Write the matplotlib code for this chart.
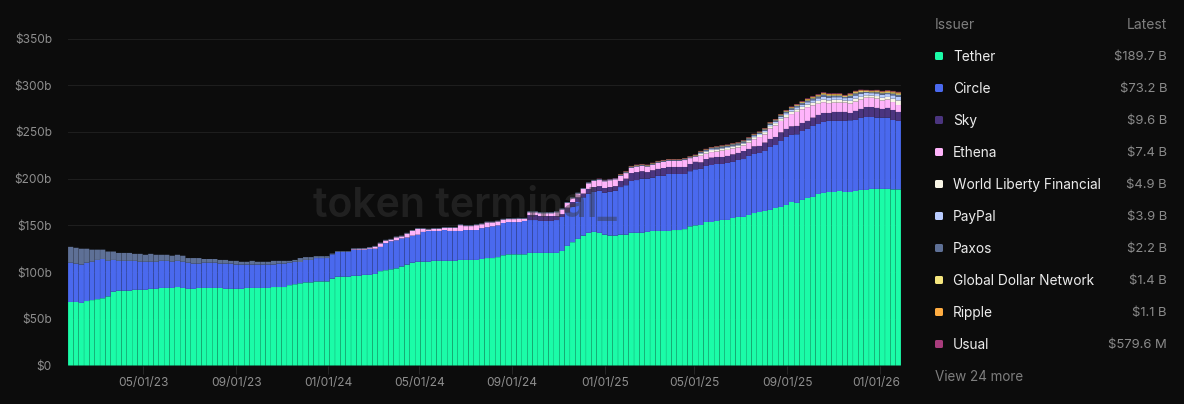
import numpy as np
import matplotlib
matplotlib.use("Agg")
import matplotlib.pyplot as plt
from matplotlib.patches import FancyBboxPatch
from matplotlib.transforms import ScaledTranslation

plt.rcParams['font.family'] = ['Inter', 'DejaVu Sans']

BG = '#0c0c0c'

tether = [
 68,68,67,69,70,71,72,74,79,80,80,80,81,81,81,82,82,83,83,83,84,83,82,82,83,83,83,83,83,82,82,82,82,83,83,83,83,83,84,84,
 84,86,87,88,89,89,90,90,90,93,95,95,95,96,96,97,97,98,101,102,103,104,106,108,110,111,111,111,112,112,112,112,112,113,113,113,113,114,115,115,
 116,118,119,119,119,119,120.5,120.5,120.5,120.5,120.5,120.5,122.6,128,132,135.5,139,142,143,142,140,139,139,140,140,142,142,142,143,144,144,144,144,145,145,146,149,150,
 150.4,153.6,153.6,154.7,155.8,155.8,157.9,159,159,161.1,163.2,164.3,165.4,166.5,168.6,169.7,171.8,175,174,177.2,179.3,180.4,183.6,184.7,185.7,185.7,186.8,185.7,185.7,186.8,187.9,187.9,189,189,189,189,188.5,188.5]

circle_top = [
 110,109,108,110,111,113,114,112,113,112,112,112,112,111,111,111,111,112,112,111,112,111,110,109,109,110,110,110,109,109,109,108,108,108,108,108,108,108,108,109,
 109,110,111,111,113,113,115,115,115,119,121.5,121.5,121.5,124,124,124,125,125,127,131,133,134,136,137,139,140,143,144,144,144,145,144,144,144,145,145,145,147,148,149,
 150,152.5,153.5,153.5,153.5,154.7,155.7,155.7,154.7,154.7,154.7,155.7,159,164,170,175,180,184,186,187,185,186,187,191,193,197.5,198.5,200,200,201,203,203,205,205,205,205,208,210,
 210.4,213.6,214.6,215.7,215.7,216.8,217.9,220,221,224.3,226.4,227.5,229.6,233.9,236,240.3,244.6,246.8,247.5,251,253.2,256.4,258.5,260.7,261.8,261.8,261.8,261.8,262.5,262.8,265,266,266,265.3,265.3,265.3,262.8,261.8]

sky = [0]*86 + [
 5.3,5.3,5.3,5.3,5.3,4.3,3,5,5,5,4,5,5,5,5,5,5,6.5,7,8.5,8.5,8,7,8,7.4,8.4,7.5,7.5,7.5,7.5,7.7,8,
 7.1,7.4,7.9,7.5,7.5,7.5,8.1,7.5,8.6,7.5,8.2,7.5,9,8.6,8.6,9.3,8.6,9.2,8.9,8.6,8.6,8.9,9.7,9.6,8.5,9.6,9.6,9.6,7.8,9.7,9.6,10.7,10.7,10.4,9.3,10.4,10.7,9.6]

ethena = [0]*53 + [
 .6,.8,1,1,2.2,3.7,2.7,1.7,3.2,2.2,4.2,5.2,6.2,3.2,1.5,2.2,2.2,2.2,3.2,3.2,6.2,4.2,4.2,5.2,4.2,5.2,4.2,
 4.2,3.7,3.2,3.2,3.4,2.2,2.9,2.9,2.9,2.9,2.9,3.9,4.9,4.9,3.9,3.9,4.9,5.9,6.5,6.5,7.1,7.2,7.2,5.4,5.9,5.5,5.9,5.6,5.9,5.9,6.5,6.5,6.4,6.4,6.4,7.4,6.2,5.5,
 7.1,5.8,5.9,5.8,6.8,6.5,6.2,5.8,5.8,6.8,7.6,9.5,8.7,11.2,12.3,12.2,12.3,13.1,15.1,14.6,14.7,13.2,12,11.5,10.5,10,10,10,10,10,10,10,10,10,9,9,8.5,7.4]

world_liberty = [0]*118 + [
 2.2,2.2,2.2,2.2,2.2,2.2,2.2,2.2,2.2,2.2,2.2,2.2,2.5,2.5,2.5,2.6,2.6,2.7,2.7,2.7,2.8,2.8,3,3,3,3,3,2.2,3,3.2,3,2.5,2.3,2.7,3,2.8,3.6,4.9]

paypal = [0]*43 + [.5,0,0,0,0,.5] + [0]*35 + [
 .3,.3,.3,.3,.3,.3,.3,.3,.3,.3,.3,.3,.3,.3,.3,.3,.3,.3,.3,.3,.3,.3,.3,.3,.3,.3,.3,.3,.3,.3,.3,.3,.3,.3] + [
 .9,.9,1,1,1,1,1,1,1,1,1.1,1.2,1.5,1.5,1.6,1.8,2,2,2.2,2.4,2.5,2.6,2.8,3,3,2.8,2.8,2.6,3.3,3.4,3.2,2.6,2.5,2.9,3.2,3,3.6,3.9]

paxos = [
 17,17,17,15,13,11,10,10,9,8.5,8.5,8.5,7.5,8.5,7.5,8.5,7.5,6.5,6.5,6.5,6.5,6.5,5,6,6,4,4,4,4,4,3,4,3,3,4,3,3,3,4,3,
 3,2,2,3.5,3,3,2,2,1.5,.8,.8,.8,.8,.8,.8,.8,.8,.8,.8,.8,.8,.8,.8,.8,.8,.8,.8,.8,.8,.8,.8,.8,.8,.8,.8,.8,.8,.8,.8,.8,
 .8,.8,.8,.8,.8,.8,.8,.8,.8,.8,.8,.8,.8,.8,.8,.8,.8,.8,.8,.8,.8,.8,.8,.8,.8,.8,.8,.8,.8,.8,.8,.8,.8,.8,.8,.8,.8,.9,
 1,1,1.1,1.4,1.4,1.4,1.4,1.4,1.4,1.4,1.4,1.5,1.5,1.5,1.5,1.5,1.6,1.6,1.6,1.6,1.8,2,2,2.2,2,1.7,1.7,1.2,2.2,2.2,1.7,1,.9,1.2,1.6,1.4,1.9,2.2]

global_dollar = [0]*103 + [
 .3,.3,.3,.3,.3,.3,.3,.3,.3,.3,.3,.3,.3,.3,.3,
 .2,.2,.3,.3,.3,.3,.3,.3,.3,.3,.3,.3,.4,.4,.4,.5,.6,.6,.7,.8,.9,1,1,1,1,1,1,.9,1.2,1.2,1.2,.9,.9,1,1,1.1,1.2,1.4]

ripple = [0]*103 + [
 .3,.3,.3,.3,.3,.3,.3,.3,.3,.3,.3,.3,.3,.3,.3,
 .4,.4,.4,.4,.4,.4,.4,.4,.4,.4,.4,.4,.5,.5,.5,.5,.6,.6,.6,.6,.7,.7,.7,.8,.8,.8,.8,.7,.9,.9,.9,.8,.8,.9,.9,1,1,1.1]

usual = [0]*99 + [
 .4,.4,.4,.4,.4,.4,.4,.4,.4,.4,.4,.4,.4,.4,.4,.4,.4,.4,.4,
 .4,.4,.4,.4,.4,.4,.4,.4,.4,.4,.4,.4,.4,.4,.4,.4,.5,.5,.6,.6,.6,.6,.6,.6,.6,.6,.6,.6,.6,.6,.6,.5,.5,.6,.6,.6,.6,.6]

issuers = ['Tether','Circle','Sky','Ethena','World Liberty Financial','PayPal','Paxos','Global Dollar Network','Ripple','Usual']
latest = ['$189.7 B','$73.2 B','$9.6 B','$7.4 B','$4.9 B','$3.9 B','$2.2 B','$1.4 B','$1.1 B','$579.6 M']
colors = ['#1bfca8','#4a69ee','#4b357f','#ffb4fb','#f8f5e6','#b9ccff','#5e7096','#f5e67e','#ffad42','#a83c7c']

y_ticks = [0,50,100,150,200,250,300,350]
y_labels = ['$0','$50b','$100b','$150b','$200b','$250b','$300b','$350b']
x_tick_labels = ['05/01/23','09/01/23','01/01/24','05/01/24','09/01/24','01/01/25','05/01/25','09/01/25','01/01/26']
x_tick_pos = [14.1,31.5,48.7,65.8,83.2,100.5,117.3,134.7,152.0]

W, H = 1184, 404
fig = plt.figure(figsize=(W/100, H/100), dpi=100, facecolor=BG)
L, R, T, B = 68, 901, 38.5, 365.5
ax = fig.add_axes([L/W, 1-B/H, (R-L)/W, (B-T)/H], facecolor=BG)

series = [np.array(tether, float), np.array(circle_top, float)-np.array(tether, float)] + [
    np.array(s, float) for s in (sky, ethena, world_liberty, paypal, paxos, global_dollar, ripple, usual)]
for s in series:
    assert len(s) == 156, len(s)
x = np.arange(156) + 0.5
bottom = np.zeros(156)
for vals, c in zip(series, colors):
    bars = ax.bar(x, vals, bottom=bottom, width=0.97, color=c, linewidth=0, zorder=3)
    for b in bars:
        b.set_snap(False)
    bottom += vals

ax.set_xlim(0, 156)
ax.set_ylim(0, 350)
for s in ax.spines.values():
    s.set_visible(False)
ax.set_yticks(y_ticks, y_labels)
ax.set_xticks(x_tick_pos, x_tick_labels)
ax.tick_params(axis='y', length=0, pad=11.5, labelcolor='#8e8e8e', labelsize=8.6)
ax.tick_params(axis='x', length=6, width=0.7, color='#262626', pad=2.2, labelcolor='#8e8e8e', labelsize=8.6)
ax.grid(axis='y', color='#1e1e1e', linewidth=0.8, zorder=0)
ax.set_axisbelow(True)
last = ax.get_xticklabels()[-1]
last.set_ha('right')
last.set_transform(last.get_transform() + ScaledTranslation(20.7/100, 0, fig.dpi_scale_trans))

ov = fig.add_axes([0, 0, 1, 1], facecolor='none')
ov.set_xlim(0, W); ov.set_ylim(H, 0); ov.axis('off')
ov.text(313, 206, 'token terminal_', fontsize=29.5, fontweight='semibold', color='#3a3a3a', alpha=0.45, va='center', ha='left', zorder=5)
ov.text(935, 25, 'Issuer', fontsize=10, color='#7e7e7e', va='center')
ov.text(1167, 25, 'Latest', fontsize=10, color='#7e7e7e', va='center', ha='right')
for i, (name, val, c) in enumerate(zip(issuers, latest, colors)):
    yy = 56 + 32*i
    ov.add_patch(FancyBboxPatch((936, yy-3), 6, 6, boxstyle='round,pad=1,rounding_size=1.5', fc=c, ec='none'))
    ov.text(953, yy + 0.8, name, fontsize=9.85, color='#ececec', va='center')
    ov.text(1167, yy + 0.8, val, fontsize=9.4, color='#8a8a8a', va='center', ha='right')
ov.text(935, 377, 'View 24 more', fontsize=9.7, color='#7e7e7e', va='center')

fig.savefig('out.png', dpi=100, facecolor=BG)
